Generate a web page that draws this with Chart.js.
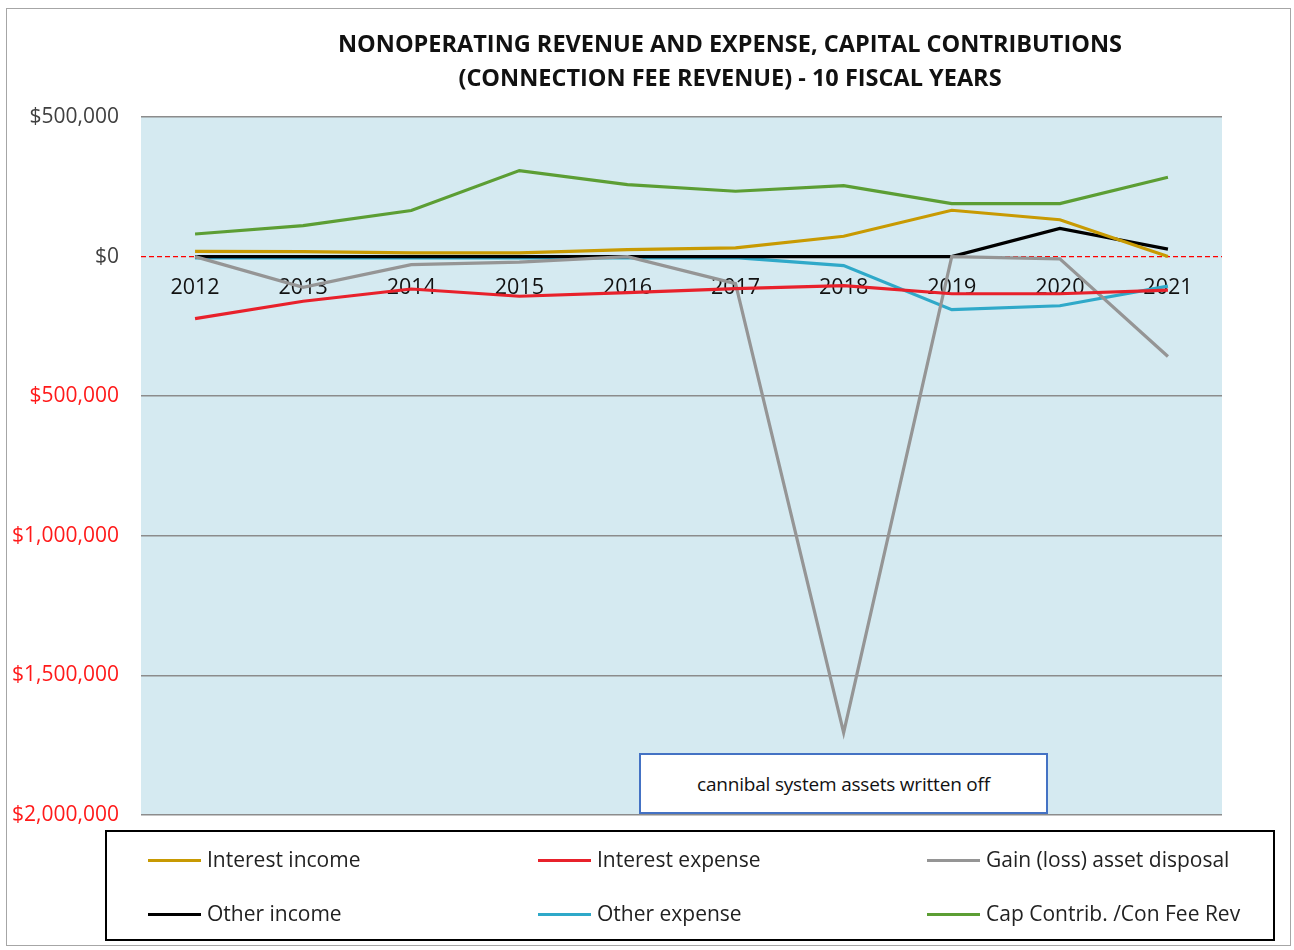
<!DOCTYPE html>
<html>
<head>
<meta charset="utf-8">
<script src="https://cdn.jsdelivr.net/npm/chart.js@4.4.1/dist/chart.umd.min.js"></script>
<style>
  body { margin: 0; background: #fff; font-family: "Open Sans", sans-serif; }
  #wrap { position: relative; width: 1294px; height: 950px; }
  #frame { position: absolute; left: 6px; top: 8px; width: 1285px; height: 938px; border: 1px solid #a6a6a6; box-sizing: border-box; }
  #chart { position: absolute; left: 0; top: 0; }
  #title { position: absolute; left: 280px; width: 900px; top: 26px; text-align: center; font-weight: bold; font-size: 23.5px; line-height: 34px; color: #111; }
  #note { position: absolute; left: 639px; top: 753px; width: 409px; height: 61px; box-sizing: border-box; border: 2px solid #4472c4; background: #fff; font-size: 19px; display: flex; align-items: center; justify-content: center; letter-spacing: -0.2px; color: #111; }
  #legend { position: absolute; left: 105px; top: 830px; width: 1170px; height: 111px; box-sizing: border-box; border: 2px solid #000; }
  .item { position: absolute; font-size: 21px; color: #222; line-height: 24px; }
  .item span { display: inline-block; width: 53px; height: 3px; vertical-align: middle; margin-right: 6px; position: relative; top: -1px; }
</style>
</head>
<body>
<div id="wrap">
  <div id="frame"></div>
  <canvas id="chart" width="1294" height="950"></canvas>
  <div id="title">NONOPERATING REVENUE AND EXPENSE, CAPITAL CONTRIBUTIONS<br>(CONNECTION FEE REVENUE) - 10 FISCAL YEARS</div>
  <div id="note">cannibal system assets written off</div>
  <div id="legend"></div>
</div>
<script>
const years = ['2012', '2013', '2014', '2015', '2016', '2017', '2018', '2019', '2020', '2021'];

const interestIncome  = [19000, 18000, 13000, 13000, 25000, 31000, 73000, 166000, 132000, 0];
const interestExpense = [-222000, -160000, -116000, -142000, -129000, -115000, -104000, -133000, -133000, -120000];
const gainLoss        = [0, -110000, -29000, -20000, 0, -97000, -1705000, 0, -8000, -358000];
const otherIncome     = [0, 0, 0, 0, 0, 0, 0, 0, 101000, 27000];
const otherExpense    = [-5000, -5000, -5000, -5000, -5000, -4000, -32000, -190000, -176000, -106000];
const capContrib      = [81000, 111000, 165000, 308000, 258000, 234000, 254000, 190000, 190000, 284000];

const seriesNames  = ['Interest income', 'Interest expense', 'Gain (loss) asset disposal', 'Other income', 'Other expense', 'Cap Contrib. /Con Fee Rev'];
const seriesData   = [interestIncome, interestExpense, gainLoss, otherIncome, otherExpense, capContrib];
const seriesColors = ['#c89a02', '#e8212b', '#959595', '#000000', '#2fa9c9', '#5c9e34'];

// light blue plot background + red dashed zero line
const plotBg = {
    id: 'plotBg',
    beforeDraw(chart) {
        const a = chart.chartArea;
        const c = chart.ctx;
        c.save();
        c.fillStyle = '#d5eaf1';
        c.fillRect(a.left, a.top, a.right - a.left, a.bottom - a.top);
        c.restore();
    },
    beforeDatasetsDraw(chart) {
        const a = chart.chartArea;
        const c = chart.ctx;
        const y0 = chart.scales.y.getPixelForValue(0);
        c.save();
        c.strokeStyle = '#ff0000';
        c.lineWidth = 1.4;
        c.setLineDash([5, 3]);
        c.beginPath();
        c.moveTo(a.left, y0);
        c.lineTo(a.right, y0);
        c.stroke();
        c.restore();
    }
};

const ctx = document.getElementById('chart').getContext('2d');
new Chart(ctx, {
    type: 'line',
    data: {
        labels: years,
        datasets: seriesNames.map((name, i) => ({
            label: name,
            data: seriesData[i],
            borderColor: seriesColors[i],
            backgroundColor: seriesColors[i],
            borderWidth: 3.2,
            pointRadius: 0,
            tension: 0,
            fill: false
        }))
    },
    options: {
        responsive: false,
        animation: false,
        layout: { padding: { left: 0, right: 72, top: 117, bottom: 135 } },
        plugins: {
            legend: { display: false },
            title: { display: false },
            tooltip: { enabled: false }
        },
        scales: {
            x: {
                position: { y: 0 },
                offset: true,
                grid: { display: false, drawTicks: false, offset: true },
                border: { display: false },
                ticks: { color: '#111', padding: 18, font: { family: 'Open Sans', size: 21.5 } }
            },
            y: {
                min: -2000000,
                max: 500000,
                afterFit(scale) { scale.width = 141; },
                grid: {
                    drawTicks: false,
                    lineWidth: 1.5,
                    color: c => c.tick && c.tick.value === 0 ? 'rgba(0,0,0,0)' : '#8c8c8c'
                },
                border: { display: false },
                ticks: {
                    stepSize: 500000,
                    padding: 22,
                    font: { family: 'Open Sans', size: 21 },
                    color: c => c.tick && c.tick.value < 0 ? '#ff1a1a' : '#404040',
                    callback: v => '$' + Math.abs(v).toLocaleString('en-US')
                }
            }
        }
    },
    plugins: [plotBg]
});

// legend box, 3 columns x 2 rows
const legend = document.getElementById('legend');
const colX = [41, 431, 820];
const rowY = [15, 69];
seriesNames.forEach((name, i) => {
    const d = document.createElement('div');
    d.className = 'item';
    d.style.left = colX[i % 3] + 'px';
    d.style.top = rowY[Math.floor(i / 3)] + 'px';
    d.innerHTML = '<span style="background:' + seriesColors[i] + '"></span>' + name;
    legend.appendChild(d);
});
</script>
</body>
</html>
